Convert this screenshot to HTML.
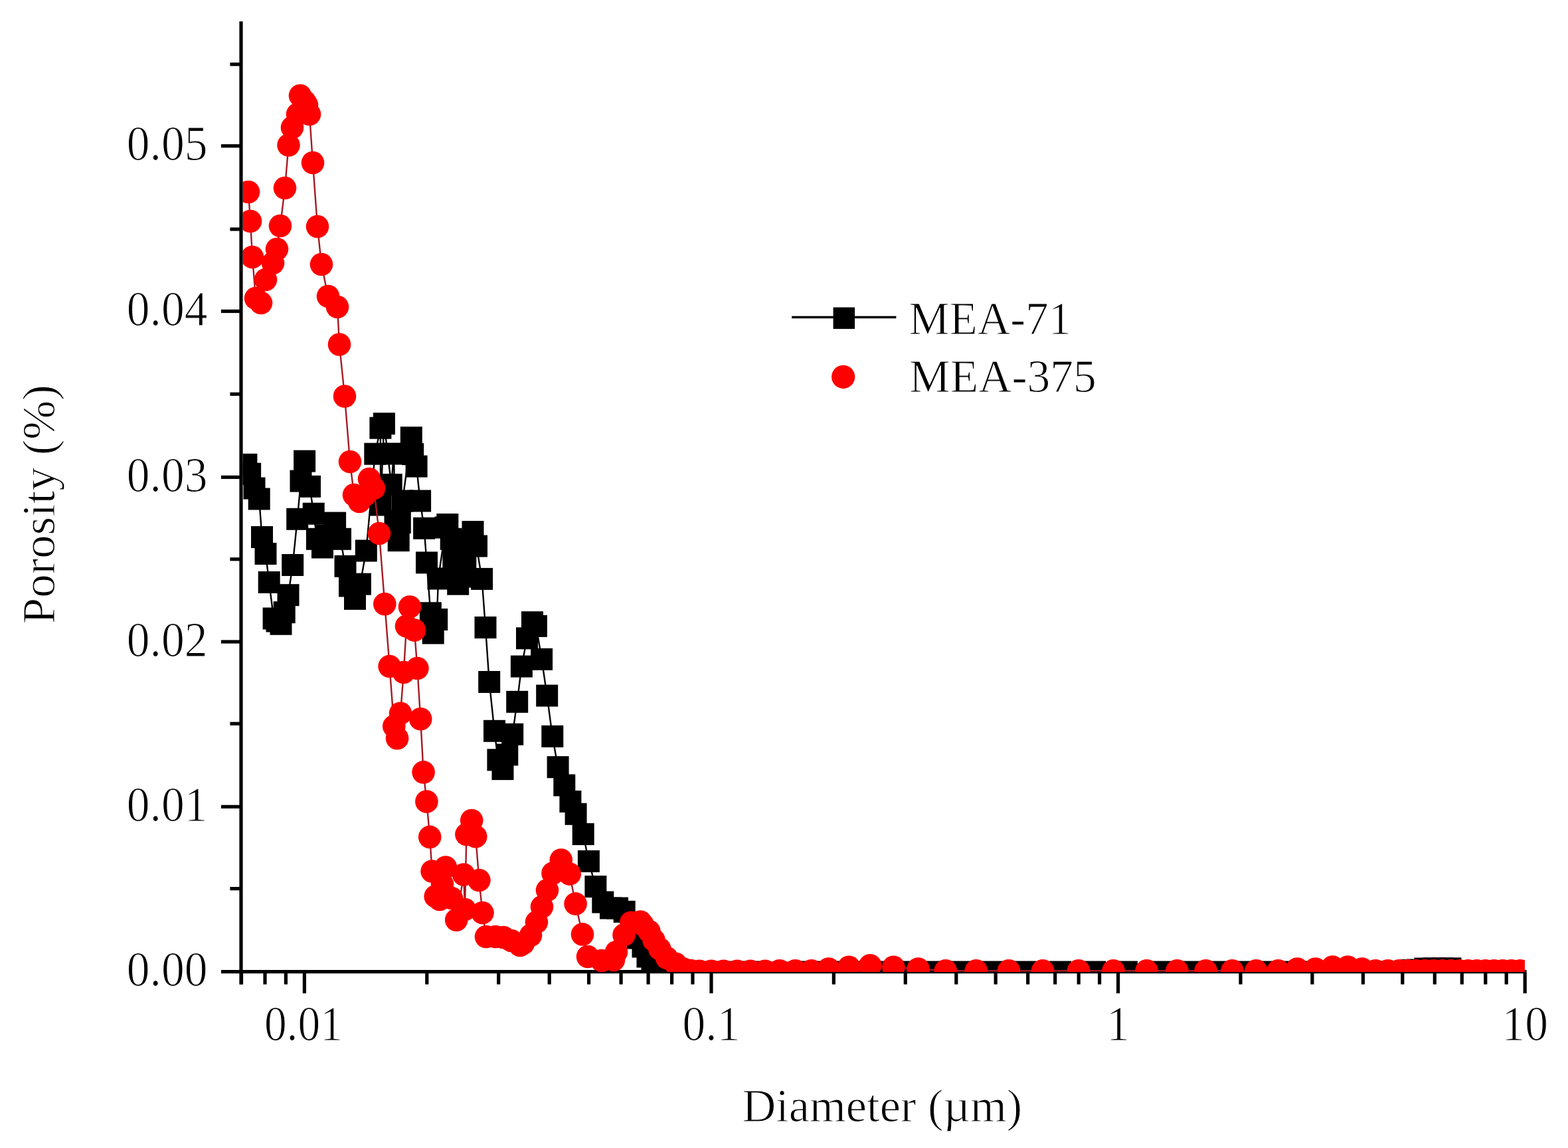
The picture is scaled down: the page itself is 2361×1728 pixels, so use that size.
<!DOCTYPE html><html><head><meta charset="utf-8"><style>html,body{margin:0;padding:0;background:#fff;}svg{display:block}</style></head><body>
<svg width="2361" height="1728" viewBox="0 0 2361 1728">
<rect width="2361" height="1728" fill="#fff"/>
<style>text{stroke:#fff;stroke-width:1.1px;}</style>
<defs><clipPath id="pc"><rect x="365.6" y="0" width="1930.4" height="1463.0"/></clipPath></defs>
<line x1="333.0" y1="1462.6" x2="2298.6" y2="1462.6" stroke="#000" stroke-width="5.2"/>
<line x1="363.5" y1="1464.2" x2="363.5" y2="1481.7" stroke="#000" stroke-width="5.2"/>
<line x1="399.0" y1="1464.2" x2="399.0" y2="1481.7" stroke="#000" stroke-width="5.2"/>
<line x1="430.4" y1="1464.2" x2="430.4" y2="1481.7" stroke="#000" stroke-width="5.2"/>
<line x1="458.4" y1="1464.2" x2="458.4" y2="1495.2" stroke="#000" stroke-width="5.2"/>
<line x1="642.8" y1="1464.2" x2="642.8" y2="1481.7" stroke="#000" stroke-width="5.2"/>
<line x1="750.7" y1="1464.2" x2="750.7" y2="1481.7" stroke="#000" stroke-width="5.2"/>
<line x1="827.2" y1="1464.2" x2="827.2" y2="1481.7" stroke="#000" stroke-width="5.2"/>
<line x1="886.6" y1="1464.2" x2="886.6" y2="1481.7" stroke="#000" stroke-width="5.2"/>
<line x1="935.1" y1="1464.2" x2="935.1" y2="1481.7" stroke="#000" stroke-width="5.2"/>
<line x1="976.1" y1="1464.2" x2="976.1" y2="1481.7" stroke="#000" stroke-width="5.2"/>
<line x1="1011.6" y1="1464.2" x2="1011.6" y2="1481.7" stroke="#000" stroke-width="5.2"/>
<line x1="1043.0" y1="1464.2" x2="1043.0" y2="1481.7" stroke="#000" stroke-width="5.2"/>
<line x1="1071.0" y1="1464.2" x2="1071.0" y2="1495.2" stroke="#000" stroke-width="5.2"/>
<line x1="1255.4" y1="1464.2" x2="1255.4" y2="1481.7" stroke="#000" stroke-width="5.2"/>
<line x1="1363.3" y1="1464.2" x2="1363.3" y2="1481.7" stroke="#000" stroke-width="5.2"/>
<line x1="1439.8" y1="1464.2" x2="1439.8" y2="1481.7" stroke="#000" stroke-width="5.2"/>
<line x1="1499.2" y1="1464.2" x2="1499.2" y2="1481.7" stroke="#000" stroke-width="5.2"/>
<line x1="1547.7" y1="1464.2" x2="1547.7" y2="1481.7" stroke="#000" stroke-width="5.2"/>
<line x1="1588.7" y1="1464.2" x2="1588.7" y2="1481.7" stroke="#000" stroke-width="5.2"/>
<line x1="1624.2" y1="1464.2" x2="1624.2" y2="1481.7" stroke="#000" stroke-width="5.2"/>
<line x1="1655.6" y1="1464.2" x2="1655.6" y2="1481.7" stroke="#000" stroke-width="5.2"/>
<line x1="1683.6" y1="1464.2" x2="1683.6" y2="1495.2" stroke="#000" stroke-width="5.2"/>
<line x1="1868.0" y1="1464.2" x2="1868.0" y2="1481.7" stroke="#000" stroke-width="5.2"/>
<line x1="1975.9" y1="1464.2" x2="1975.9" y2="1481.7" stroke="#000" stroke-width="5.2"/>
<line x1="2052.4" y1="1464.2" x2="2052.4" y2="1481.7" stroke="#000" stroke-width="5.2"/>
<line x1="2111.8" y1="1464.2" x2="2111.8" y2="1481.7" stroke="#000" stroke-width="5.2"/>
<line x1="2160.3" y1="1464.2" x2="2160.3" y2="1481.7" stroke="#000" stroke-width="5.2"/>
<line x1="2201.3" y1="1464.2" x2="2201.3" y2="1481.7" stroke="#000" stroke-width="5.2"/>
<line x1="2236.8" y1="1464.2" x2="2236.8" y2="1481.7" stroke="#000" stroke-width="5.2"/>
<line x1="2268.2" y1="1464.2" x2="2268.2" y2="1481.7" stroke="#000" stroke-width="5.2"/>
<line x1="2296.2" y1="1464.2" x2="2296.2" y2="1495.2" stroke="#000" stroke-width="5.2"/>
<line x1="346.4" y1="1337.6" x2="361.4" y2="1337.6" stroke="#000" stroke-width="5.2"/>
<line x1="332.9" y1="1214.3" x2="361.4" y2="1214.3" stroke="#000" stroke-width="5.2"/>
<line x1="346.4" y1="1089.3" x2="361.4" y2="1089.3" stroke="#000" stroke-width="5.2"/>
<line x1="332.9" y1="966.0" x2="361.4" y2="966.0" stroke="#000" stroke-width="5.2"/>
<line x1="346.4" y1="841.7" x2="361.4" y2="841.7" stroke="#000" stroke-width="5.2"/>
<line x1="332.9" y1="718.3" x2="361.4" y2="718.3" stroke="#000" stroke-width="5.2"/>
<line x1="346.4" y1="593.2" x2="361.4" y2="593.2" stroke="#000" stroke-width="5.2"/>
<line x1="332.9" y1="468.5" x2="361.4" y2="468.5" stroke="#000" stroke-width="5.2"/>
<line x1="346.4" y1="345.0" x2="361.4" y2="345.0" stroke="#000" stroke-width="5.2"/>
<line x1="332.9" y1="219.7" x2="361.4" y2="219.7" stroke="#000" stroke-width="5.2"/>
<line x1="346.4" y1="96.8" x2="361.4" y2="96.8" stroke="#000" stroke-width="5.2"/>
<g clip-path="url(#pc)">
<polyline points="370.9,699.3 376.6,713.2 383.0,735.0 390.2,751.0 394.5,808.5 400.0,833.5 405.2,876.5 412.1,931.0 417.0,935.0 423.0,939.3 428.2,921.7 434.0,895.7 440.7,850.5 447.7,781.3 453.0,724.1 458.6,694.1 466.5,732.3 472.2,773.2 477.4,811.3 485.5,824.0 491.5,806.0 504.6,787.1 512.5,811.3 520.0,852.3 526.5,882.0 534.5,901.4 542.4,879.2 551.3,829.0 564.8,683.2 572.9,644.2 573.0,760.0 578.4,637.7 589.2,729.6 593.0,683.0 595.0,784.0 600.2,813.6 602.3,786.5 606.0,754.0 619.3,658.7 621.7,683.6 627.1,702.0 632.6,754.0 638.6,795.2 642.5,846.9 648.3,922.8 652.2,953.0 657.7,932.5 660.0,871.0 671.0,794.0 673.8,789.5 679.2,811.3 682.8,840.2 688.0,862.0 689.7,879.2 700.0,868.0 700.8,841.0 705.0,815.0 712.0,800.5 717.5,822.0 725.6,871.4 731.0,944.5 736.7,1026.5 744.5,1100.3 749.9,1143.8 757.0,1157.6 763.8,1136.0 771.7,1105.3 778.7,1056.4 785.4,1003.1 793.5,960.8 801.5,936.7 807.4,942.4 815.6,992.3 823.7,1047.1 831.8,1108.4 840.1,1154.7 849.8,1182.0 858.9,1206.5 867.1,1225.3 878.2,1255.6 886.4,1296.4 896.9,1334.5 907.8,1358.0 919.5,1367.0 929.5,1367.0 940.2,1372.3 950.0,1395.0 960.0,1412.0 968.0,1425.0 975.0,1440.0 982.0,1452.0 990.0,1460.0 1062.0,1463.0 1080.0,1463.0 1100.0,1463.0 1120.0,1463.0 1141.0,1463.0 1163.0,1464.0 1185.0,1464.0 1210.0,1463.0 1235.0,1463.0 1263.0,1463.0 1294.0,1463.0 1328.0,1463.0 1364.0,1463.0 1403.0,1463.0 1447.9,1463.0 1494.4,1463.0 1543.6,1463.0 1596.7,1463.0 1648.6,1463.0 1696.4,1463.0 1747.0,1463.0 1792.0,1463.0 1835.0,1463.0 1873.0,1463.0 1907.0,1463.0 1938.0,1463.0 1967.0,1463.0 1994.0,1463.0 2018.0,1463.0 2040.0,1463.0 2061.0,1463.0 2080.0,1463.0 2098.0,1463.0 2110.0,1463.0 2122.0,1460.5 2146.0,1458.0 2159.0,1457.8 2172.0,1457.8 2184.0,1457.8 2134.0,1460.0 2210.0,1463.0 2225.0,1463.0 2240.0,1463.0 2255.0,1463.0 2270.0,1463.0 2285.0,1463.0 2300.0,1463.0" fill="none" stroke="#000" stroke-width="2.4"/>
<rect x="354.4" y="682.8" width="33.0" height="33.0" fill="#000"/>
<rect x="360.1" y="696.7" width="33.0" height="33.0" fill="#000"/>
<rect x="366.5" y="718.5" width="33.0" height="33.0" fill="#000"/>
<rect x="373.7" y="734.5" width="33.0" height="33.0" fill="#000"/>
<rect x="378.0" y="792.0" width="33.0" height="33.0" fill="#000"/>
<rect x="383.5" y="817.0" width="33.0" height="33.0" fill="#000"/>
<rect x="388.7" y="860.0" width="33.0" height="33.0" fill="#000"/>
<rect x="395.6" y="914.5" width="33.0" height="33.0" fill="#000"/>
<rect x="400.5" y="918.5" width="33.0" height="33.0" fill="#000"/>
<rect x="406.5" y="922.8" width="33.0" height="33.0" fill="#000"/>
<rect x="411.7" y="905.2" width="33.0" height="33.0" fill="#000"/>
<rect x="417.5" y="879.2" width="33.0" height="33.0" fill="#000"/>
<rect x="424.2" y="834.0" width="33.0" height="33.0" fill="#000"/>
<rect x="431.2" y="764.8" width="33.0" height="33.0" fill="#000"/>
<rect x="436.5" y="707.6" width="33.0" height="33.0" fill="#000"/>
<rect x="442.1" y="677.6" width="33.0" height="33.0" fill="#000"/>
<rect x="450.0" y="715.8" width="33.0" height="33.0" fill="#000"/>
<rect x="455.7" y="756.7" width="33.0" height="33.0" fill="#000"/>
<rect x="460.9" y="794.8" width="33.0" height="33.0" fill="#000"/>
<rect x="469.0" y="807.5" width="33.0" height="33.0" fill="#000"/>
<rect x="475.0" y="789.5" width="33.0" height="33.0" fill="#000"/>
<rect x="488.1" y="770.6" width="33.0" height="33.0" fill="#000"/>
<rect x="496.0" y="794.8" width="33.0" height="33.0" fill="#000"/>
<rect x="503.5" y="835.8" width="33.0" height="33.0" fill="#000"/>
<rect x="510.0" y="865.5" width="33.0" height="33.0" fill="#000"/>
<rect x="518.0" y="884.9" width="33.0" height="33.0" fill="#000"/>
<rect x="525.9" y="862.7" width="33.0" height="33.0" fill="#000"/>
<rect x="534.8" y="812.5" width="33.0" height="33.0" fill="#000"/>
<rect x="548.3" y="666.7" width="33.0" height="33.0" fill="#000"/>
<rect x="556.4" y="627.7" width="33.0" height="33.0" fill="#000"/>
<rect x="556.5" y="743.5" width="33.0" height="33.0" fill="#000"/>
<rect x="561.9" y="621.2" width="33.0" height="33.0" fill="#000"/>
<rect x="572.7" y="713.1" width="33.0" height="33.0" fill="#000"/>
<rect x="576.5" y="666.5" width="33.0" height="33.0" fill="#000"/>
<rect x="578.5" y="767.5" width="33.0" height="33.0" fill="#000"/>
<rect x="583.7" y="797.1" width="33.0" height="33.0" fill="#000"/>
<rect x="585.8" y="770.0" width="33.0" height="33.0" fill="#000"/>
<rect x="589.5" y="737.5" width="33.0" height="33.0" fill="#000"/>
<rect x="602.8" y="642.2" width="33.0" height="33.0" fill="#000"/>
<rect x="605.2" y="667.1" width="33.0" height="33.0" fill="#000"/>
<rect x="610.6" y="685.5" width="33.0" height="33.0" fill="#000"/>
<rect x="616.1" y="737.5" width="33.0" height="33.0" fill="#000"/>
<rect x="622.1" y="778.7" width="33.0" height="33.0" fill="#000"/>
<rect x="626.0" y="830.4" width="33.0" height="33.0" fill="#000"/>
<rect x="631.8" y="906.3" width="33.0" height="33.0" fill="#000"/>
<rect x="635.7" y="936.5" width="33.0" height="33.0" fill="#000"/>
<rect x="641.2" y="916.0" width="33.0" height="33.0" fill="#000"/>
<rect x="643.5" y="854.5" width="33.0" height="33.0" fill="#000"/>
<rect x="654.5" y="777.5" width="33.0" height="33.0" fill="#000"/>
<rect x="657.3" y="773.0" width="33.0" height="33.0" fill="#000"/>
<rect x="662.7" y="794.8" width="33.0" height="33.0" fill="#000"/>
<rect x="666.3" y="823.7" width="33.0" height="33.0" fill="#000"/>
<rect x="671.5" y="845.5" width="33.0" height="33.0" fill="#000"/>
<rect x="673.2" y="862.7" width="33.0" height="33.0" fill="#000"/>
<rect x="683.5" y="851.5" width="33.0" height="33.0" fill="#000"/>
<rect x="684.3" y="824.5" width="33.0" height="33.0" fill="#000"/>
<rect x="688.5" y="798.5" width="33.0" height="33.0" fill="#000"/>
<rect x="695.5" y="784.0" width="33.0" height="33.0" fill="#000"/>
<rect x="701.0" y="805.5" width="33.0" height="33.0" fill="#000"/>
<rect x="709.1" y="854.9" width="33.0" height="33.0" fill="#000"/>
<rect x="714.5" y="928.0" width="33.0" height="33.0" fill="#000"/>
<rect x="720.2" y="1010.0" width="33.0" height="33.0" fill="#000"/>
<rect x="728.0" y="1083.8" width="33.0" height="33.0" fill="#000"/>
<rect x="733.4" y="1127.3" width="33.0" height="33.0" fill="#000"/>
<rect x="740.5" y="1141.1" width="33.0" height="33.0" fill="#000"/>
<rect x="747.3" y="1119.5" width="33.0" height="33.0" fill="#000"/>
<rect x="755.2" y="1088.8" width="33.0" height="33.0" fill="#000"/>
<rect x="762.2" y="1039.9" width="33.0" height="33.0" fill="#000"/>
<rect x="768.9" y="986.6" width="33.0" height="33.0" fill="#000"/>
<rect x="777.0" y="944.3" width="33.0" height="33.0" fill="#000"/>
<rect x="785.0" y="920.2" width="33.0" height="33.0" fill="#000"/>
<rect x="790.9" y="925.9" width="33.0" height="33.0" fill="#000"/>
<rect x="799.1" y="975.8" width="33.0" height="33.0" fill="#000"/>
<rect x="807.2" y="1030.6" width="33.0" height="33.0" fill="#000"/>
<rect x="815.3" y="1091.9" width="33.0" height="33.0" fill="#000"/>
<rect x="823.6" y="1138.2" width="33.0" height="33.0" fill="#000"/>
<rect x="833.3" y="1165.5" width="33.0" height="33.0" fill="#000"/>
<rect x="842.4" y="1190.0" width="33.0" height="33.0" fill="#000"/>
<rect x="850.6" y="1208.8" width="33.0" height="33.0" fill="#000"/>
<rect x="861.7" y="1239.1" width="33.0" height="33.0" fill="#000"/>
<rect x="869.9" y="1279.9" width="33.0" height="33.0" fill="#000"/>
<rect x="880.4" y="1318.0" width="33.0" height="33.0" fill="#000"/>
<rect x="891.3" y="1341.5" width="33.0" height="33.0" fill="#000"/>
<rect x="903.0" y="1350.5" width="33.0" height="33.0" fill="#000"/>
<rect x="913.0" y="1350.5" width="33.0" height="33.0" fill="#000"/>
<rect x="923.7" y="1355.8" width="33.0" height="33.0" fill="#000"/>
<rect x="933.5" y="1378.5" width="33.0" height="33.0" fill="#000"/>
<rect x="943.5" y="1395.5" width="33.0" height="33.0" fill="#000"/>
<rect x="951.5" y="1408.5" width="33.0" height="33.0" fill="#000"/>
<rect x="958.5" y="1423.5" width="33.0" height="33.0" fill="#000"/>
<rect x="965.5" y="1435.5" width="33.0" height="33.0" fill="#000"/>
<rect x="973.5" y="1443.5" width="33.0" height="33.0" fill="#000"/>
<rect x="1045.5" y="1446.5" width="33.0" height="33.0" fill="#000"/>
<rect x="1063.5" y="1446.5" width="33.0" height="33.0" fill="#000"/>
<rect x="1083.5" y="1446.5" width="33.0" height="33.0" fill="#000"/>
<rect x="1103.5" y="1446.5" width="33.0" height="33.0" fill="#000"/>
<rect x="1124.5" y="1446.5" width="33.0" height="33.0" fill="#000"/>
<rect x="1146.5" y="1447.5" width="33.0" height="33.0" fill="#000"/>
<rect x="1168.5" y="1447.5" width="33.0" height="33.0" fill="#000"/>
<rect x="1193.5" y="1446.5" width="33.0" height="33.0" fill="#000"/>
<rect x="1218.5" y="1446.5" width="33.0" height="33.0" fill="#000"/>
<rect x="1246.5" y="1446.5" width="33.0" height="33.0" fill="#000"/>
<rect x="1277.5" y="1446.5" width="33.0" height="33.0" fill="#000"/>
<rect x="1311.5" y="1446.5" width="33.0" height="33.0" fill="#000"/>
<rect x="1347.5" y="1446.5" width="33.0" height="33.0" fill="#000"/>
<rect x="1386.5" y="1446.5" width="33.0" height="33.0" fill="#000"/>
<rect x="1431.4" y="1446.5" width="33.0" height="33.0" fill="#000"/>
<rect x="1477.9" y="1446.5" width="33.0" height="33.0" fill="#000"/>
<rect x="1527.1" y="1446.5" width="33.0" height="33.0" fill="#000"/>
<rect x="1580.2" y="1446.5" width="33.0" height="33.0" fill="#000"/>
<rect x="1632.1" y="1446.5" width="33.0" height="33.0" fill="#000"/>
<rect x="1679.9" y="1446.5" width="33.0" height="33.0" fill="#000"/>
<rect x="1730.5" y="1446.5" width="33.0" height="33.0" fill="#000"/>
<rect x="1775.5" y="1446.5" width="33.0" height="33.0" fill="#000"/>
<rect x="1818.5" y="1446.5" width="33.0" height="33.0" fill="#000"/>
<rect x="1856.5" y="1446.5" width="33.0" height="33.0" fill="#000"/>
<rect x="1890.5" y="1446.5" width="33.0" height="33.0" fill="#000"/>
<rect x="1921.5" y="1446.5" width="33.0" height="33.0" fill="#000"/>
<rect x="1950.5" y="1446.5" width="33.0" height="33.0" fill="#000"/>
<rect x="1977.5" y="1446.5" width="33.0" height="33.0" fill="#000"/>
<rect x="2001.5" y="1446.5" width="33.0" height="33.0" fill="#000"/>
<rect x="2023.5" y="1446.5" width="33.0" height="33.0" fill="#000"/>
<rect x="2044.5" y="1446.5" width="33.0" height="33.0" fill="#000"/>
<rect x="2063.5" y="1446.5" width="33.0" height="33.0" fill="#000"/>
<rect x="2081.5" y="1446.5" width="33.0" height="33.0" fill="#000"/>
<rect x="2093.5" y="1446.5" width="33.0" height="33.0" fill="#000"/>
<rect x="2105.5" y="1444.0" width="33.0" height="33.0" fill="#000"/>
<rect x="2129.5" y="1441.5" width="33.0" height="33.0" fill="#000"/>
<rect x="2142.5" y="1441.3" width="33.0" height="33.0" fill="#000"/>
<rect x="2155.5" y="1441.3" width="33.0" height="33.0" fill="#000"/>
<rect x="2167.5" y="1441.3" width="33.0" height="33.0" fill="#000"/>
<rect x="2117.5" y="1443.5" width="33.0" height="33.0" fill="#000"/>
<rect x="2193.5" y="1446.5" width="33.0" height="33.0" fill="#000"/>
<rect x="2208.5" y="1446.5" width="33.0" height="33.0" fill="#000"/>
<rect x="2223.5" y="1446.5" width="33.0" height="33.0" fill="#000"/>
<rect x="2238.5" y="1446.5" width="33.0" height="33.0" fill="#000"/>
<rect x="2253.5" y="1446.5" width="33.0" height="33.0" fill="#000"/>
<rect x="2268.5" y="1446.5" width="33.0" height="33.0" fill="#000"/>
<rect x="2283.5" y="1446.5" width="33.0" height="33.0" fill="#000"/>
<polyline points="374.0,289.0 377.0,333.0 380.0,387.0 385.0,449.0 393.0,456.0 400.0,421.0 411.0,396.0 417.0,375.0 422.0,340.0 429.0,283.0 434.5,218.5 440.0,192.0 448.0,172.0 452.0,144.0 459.0,153.0 462.0,158.0 466.0,172.0 471.0,245.0 478.0,341.0 484.0,398.0 494.0,446.0 508.0,462.0 511.0,518.5 519.0,596.5 527.0,695.0 533.0,745.0 541.0,755.0 550.0,745.0 556.0,721.0 563.0,735.0 571.0,803.0 579.3,909.2 586.6,1003.0 593.3,1093.2 598.1,1111.3 603.0,1073.8 607.8,1012.0 612.0,942.5 617.0,913.5 624.0,948.6 628.4,1006.0 633.2,1082.3 637.6,1162.4 642.4,1206.6 647.2,1259.9 650.6,1311.5 655.7,1349.3 662.0,1354.0 666.0,1331.0 671.0,1305.6 680.0,1352.0 687.2,1384.7 698.2,1316.6 700.0,1369.0 702.4,1256.0 710.2,1235.0 716.2,1259.3 721.4,1325.0 726.5,1374.0 732.0,1410.0 746.0,1410.0 758.0,1411.0 770.0,1416.0 783.0,1423.0 788.0,1420.0 799.0,1408.0 808.0,1388.0 816.0,1365.0 824.0,1340.0 832.5,1314.4 844.8,1294.6 857.7,1315.6 866.6,1360.4 877.0,1406.4 885.0,1440.0 906.0,1446.0 924.0,1445.0 928.0,1433.0 939.5,1407.3 950.2,1388.7 964.2,1387.6 967.7,1391.8 977.5,1402.0 984.6,1415.3 993.4,1428.6 1004.0,1442.0 1017.3,1450.8 1028.0,1458.0 1040.0,1461.0 1053.0,1461.8 1071.0,1461.8 1089.5,1461.8 1110.0,1461.8 1130.0,1461.8 1152.0,1461.8 1173.8,1461.2 1197.5,1461.2 1221.8,1461.2 1247.7,1458.5 1278.3,1455.8 1310.2,1453.2 1345.4,1455.8 1382.6,1458.5 1423.8,1461.2 1469.8,1461.2 1519.0,1461.2 1570.1,1461.2 1624.0,1461.2 1676.5,1461.2 1726.6,1461.2 1772.4,1461.2 1815.6,1461.2 1855.5,1461.2 1891.4,1461.2 1924.6,1461.2 1953.3,1458.6 1980.8,1458.6 2006.5,1455.5 2029.5,1455.5 2050.8,1458.6 2071.1,1461.2 2089.8,1461.2 2106.6,1461.2 2119.6,1461.2 2132.6,1461.2 2145.6,1461.2 2158.6,1461.2 2171.6,1461.2 2184.6,1461.2 2197.6,1461.2 2210.6,1461.2 2223.6,1461.2 2236.6,1461.2 2249.6,1461.2 2262.6,1461.2 2275.6,1461.2 2288.6,1461.2 2301.6,1461.2" fill="none" stroke="#a51a24" stroke-width="2.4"/>
<circle cx="374.0" cy="289.0" r="17.3" fill="#ff0000"/>
<circle cx="377.0" cy="333.0" r="17.3" fill="#ff0000"/>
<circle cx="380.0" cy="387.0" r="17.3" fill="#ff0000"/>
<circle cx="385.0" cy="449.0" r="17.3" fill="#ff0000"/>
<circle cx="393.0" cy="456.0" r="17.3" fill="#ff0000"/>
<circle cx="400.0" cy="421.0" r="17.3" fill="#ff0000"/>
<circle cx="411.0" cy="396.0" r="17.3" fill="#ff0000"/>
<circle cx="417.0" cy="375.0" r="17.3" fill="#ff0000"/>
<circle cx="422.0" cy="340.0" r="17.3" fill="#ff0000"/>
<circle cx="429.0" cy="283.0" r="17.3" fill="#ff0000"/>
<circle cx="434.5" cy="218.5" r="17.3" fill="#ff0000"/>
<circle cx="440.0" cy="192.0" r="17.3" fill="#ff0000"/>
<circle cx="448.0" cy="172.0" r="17.3" fill="#ff0000"/>
<circle cx="452.0" cy="144.0" r="17.3" fill="#ff0000"/>
<circle cx="459.0" cy="153.0" r="17.3" fill="#ff0000"/>
<circle cx="462.0" cy="158.0" r="17.3" fill="#ff0000"/>
<circle cx="466.0" cy="172.0" r="17.3" fill="#ff0000"/>
<circle cx="471.0" cy="245.0" r="17.3" fill="#ff0000"/>
<circle cx="478.0" cy="341.0" r="17.3" fill="#ff0000"/>
<circle cx="484.0" cy="398.0" r="17.3" fill="#ff0000"/>
<circle cx="494.0" cy="446.0" r="17.3" fill="#ff0000"/>
<circle cx="508.0" cy="462.0" r="17.3" fill="#ff0000"/>
<circle cx="511.0" cy="518.5" r="17.3" fill="#ff0000"/>
<circle cx="519.0" cy="596.5" r="17.3" fill="#ff0000"/>
<circle cx="527.0" cy="695.0" r="17.3" fill="#ff0000"/>
<circle cx="533.0" cy="745.0" r="17.3" fill="#ff0000"/>
<circle cx="541.0" cy="755.0" r="17.3" fill="#ff0000"/>
<circle cx="550.0" cy="745.0" r="17.3" fill="#ff0000"/>
<circle cx="556.0" cy="721.0" r="17.3" fill="#ff0000"/>
<circle cx="563.0" cy="735.0" r="17.3" fill="#ff0000"/>
<circle cx="571.0" cy="803.0" r="17.3" fill="#ff0000"/>
<circle cx="579.3" cy="909.2" r="17.3" fill="#ff0000"/>
<circle cx="586.6" cy="1003.0" r="17.3" fill="#ff0000"/>
<circle cx="593.3" cy="1093.2" r="17.3" fill="#ff0000"/>
<circle cx="598.1" cy="1111.3" r="17.3" fill="#ff0000"/>
<circle cx="603.0" cy="1073.8" r="17.3" fill="#ff0000"/>
<circle cx="607.8" cy="1012.0" r="17.3" fill="#ff0000"/>
<circle cx="612.0" cy="942.5" r="17.3" fill="#ff0000"/>
<circle cx="617.0" cy="913.5" r="17.3" fill="#ff0000"/>
<circle cx="624.0" cy="948.6" r="17.3" fill="#ff0000"/>
<circle cx="628.4" cy="1006.0" r="17.3" fill="#ff0000"/>
<circle cx="633.2" cy="1082.3" r="17.3" fill="#ff0000"/>
<circle cx="637.6" cy="1162.4" r="17.3" fill="#ff0000"/>
<circle cx="642.4" cy="1206.6" r="17.3" fill="#ff0000"/>
<circle cx="647.2" cy="1259.9" r="17.3" fill="#ff0000"/>
<circle cx="650.6" cy="1311.5" r="17.3" fill="#ff0000"/>
<circle cx="655.7" cy="1349.3" r="17.3" fill="#ff0000"/>
<circle cx="662.0" cy="1354.0" r="17.3" fill="#ff0000"/>
<circle cx="666.0" cy="1331.0" r="17.3" fill="#ff0000"/>
<circle cx="671.0" cy="1305.6" r="17.3" fill="#ff0000"/>
<circle cx="680.0" cy="1352.0" r="17.3" fill="#ff0000"/>
<circle cx="687.2" cy="1384.7" r="17.3" fill="#ff0000"/>
<circle cx="698.2" cy="1316.6" r="17.3" fill="#ff0000"/>
<circle cx="700.0" cy="1369.0" r="17.3" fill="#ff0000"/>
<circle cx="702.4" cy="1256.0" r="17.3" fill="#ff0000"/>
<circle cx="710.2" cy="1235.0" r="17.3" fill="#ff0000"/>
<circle cx="716.2" cy="1259.3" r="17.3" fill="#ff0000"/>
<circle cx="721.4" cy="1325.0" r="17.3" fill="#ff0000"/>
<circle cx="726.5" cy="1374.0" r="17.3" fill="#ff0000"/>
<circle cx="732.0" cy="1410.0" r="17.3" fill="#ff0000"/>
<circle cx="746.0" cy="1410.0" r="17.3" fill="#ff0000"/>
<circle cx="758.0" cy="1411.0" r="17.3" fill="#ff0000"/>
<circle cx="770.0" cy="1416.0" r="17.3" fill="#ff0000"/>
<circle cx="783.0" cy="1423.0" r="17.3" fill="#ff0000"/>
<circle cx="788.0" cy="1420.0" r="17.3" fill="#ff0000"/>
<circle cx="799.0" cy="1408.0" r="17.3" fill="#ff0000"/>
<circle cx="808.0" cy="1388.0" r="17.3" fill="#ff0000"/>
<circle cx="816.0" cy="1365.0" r="17.3" fill="#ff0000"/>
<circle cx="824.0" cy="1340.0" r="17.3" fill="#ff0000"/>
<circle cx="832.5" cy="1314.4" r="17.3" fill="#ff0000"/>
<circle cx="844.8" cy="1294.6" r="17.3" fill="#ff0000"/>
<circle cx="857.7" cy="1315.6" r="17.3" fill="#ff0000"/>
<circle cx="866.6" cy="1360.4" r="17.3" fill="#ff0000"/>
<circle cx="877.0" cy="1406.4" r="17.3" fill="#ff0000"/>
<circle cx="885.0" cy="1440.0" r="17.3" fill="#ff0000"/>
<circle cx="906.0" cy="1446.0" r="17.3" fill="#ff0000"/>
<circle cx="924.0" cy="1445.0" r="17.3" fill="#ff0000"/>
<circle cx="928.0" cy="1433.0" r="17.3" fill="#ff0000"/>
<circle cx="939.5" cy="1407.3" r="17.3" fill="#ff0000"/>
<circle cx="950.2" cy="1388.7" r="17.3" fill="#ff0000"/>
<circle cx="964.2" cy="1387.6" r="17.3" fill="#ff0000"/>
<circle cx="967.7" cy="1391.8" r="17.3" fill="#ff0000"/>
<circle cx="977.5" cy="1402.0" r="17.3" fill="#ff0000"/>
<circle cx="984.6" cy="1415.3" r="17.3" fill="#ff0000"/>
<circle cx="993.4" cy="1428.6" r="17.3" fill="#ff0000"/>
<circle cx="1004.0" cy="1442.0" r="17.3" fill="#ff0000"/>
<circle cx="1017.3" cy="1450.8" r="17.3" fill="#ff0000"/>
<circle cx="1028.0" cy="1458.0" r="17.3" fill="#ff0000"/>
<circle cx="1040.0" cy="1461.0" r="17.3" fill="#ff0000"/>
<circle cx="1053.0" cy="1461.8" r="17.3" fill="#ff0000"/>
<circle cx="1071.0" cy="1461.8" r="17.3" fill="#ff0000"/>
<circle cx="1089.5" cy="1461.8" r="17.3" fill="#ff0000"/>
<circle cx="1110.0" cy="1461.8" r="17.3" fill="#ff0000"/>
<circle cx="1130.0" cy="1461.8" r="17.3" fill="#ff0000"/>
<circle cx="1152.0" cy="1461.8" r="17.3" fill="#ff0000"/>
<circle cx="1173.8" cy="1461.2" r="17.3" fill="#ff0000"/>
<circle cx="1197.5" cy="1461.2" r="17.3" fill="#ff0000"/>
<circle cx="1221.8" cy="1461.2" r="17.3" fill="#ff0000"/>
<circle cx="1247.7" cy="1458.5" r="17.3" fill="#ff0000"/>
<circle cx="1278.3" cy="1455.8" r="17.3" fill="#ff0000"/>
<circle cx="1310.2" cy="1453.2" r="17.3" fill="#ff0000"/>
<circle cx="1345.4" cy="1455.8" r="17.3" fill="#ff0000"/>
<circle cx="1382.6" cy="1458.5" r="17.3" fill="#ff0000"/>
<circle cx="1423.8" cy="1461.2" r="17.3" fill="#ff0000"/>
<circle cx="1469.8" cy="1461.2" r="17.3" fill="#ff0000"/>
<circle cx="1519.0" cy="1461.2" r="17.3" fill="#ff0000"/>
<circle cx="1570.1" cy="1461.2" r="17.3" fill="#ff0000"/>
<circle cx="1624.0" cy="1461.2" r="17.3" fill="#ff0000"/>
<circle cx="1676.5" cy="1461.2" r="17.3" fill="#ff0000"/>
<circle cx="1726.6" cy="1461.2" r="17.3" fill="#ff0000"/>
<circle cx="1772.4" cy="1461.2" r="17.3" fill="#ff0000"/>
<circle cx="1815.6" cy="1461.2" r="17.3" fill="#ff0000"/>
<circle cx="1855.5" cy="1461.2" r="17.3" fill="#ff0000"/>
<circle cx="1891.4" cy="1461.2" r="17.3" fill="#ff0000"/>
<circle cx="1924.6" cy="1461.2" r="17.3" fill="#ff0000"/>
<circle cx="1953.3" cy="1458.6" r="17.3" fill="#ff0000"/>
<circle cx="1980.8" cy="1458.6" r="17.3" fill="#ff0000"/>
<circle cx="2006.5" cy="1455.5" r="17.3" fill="#ff0000"/>
<circle cx="2029.5" cy="1455.5" r="17.3" fill="#ff0000"/>
<circle cx="2050.8" cy="1458.6" r="17.3" fill="#ff0000"/>
<circle cx="2071.1" cy="1461.2" r="17.3" fill="#ff0000"/>
<circle cx="2089.8" cy="1461.2" r="17.3" fill="#ff0000"/>
<circle cx="2106.6" cy="1461.2" r="17.3" fill="#ff0000"/>
<circle cx="2119.6" cy="1461.2" r="17.3" fill="#ff0000"/>
<circle cx="2132.6" cy="1461.2" r="17.3" fill="#ff0000"/>
<circle cx="2145.6" cy="1461.2" r="17.3" fill="#ff0000"/>
<circle cx="2158.6" cy="1461.2" r="17.3" fill="#ff0000"/>
<circle cx="2171.6" cy="1461.2" r="17.3" fill="#ff0000"/>
<circle cx="2184.6" cy="1461.2" r="17.3" fill="#ff0000"/>
<circle cx="2197.6" cy="1461.2" r="17.3" fill="#ff0000"/>
<circle cx="2210.6" cy="1461.2" r="17.3" fill="#ff0000"/>
<circle cx="2223.6" cy="1461.2" r="17.3" fill="#ff0000"/>
<circle cx="2236.6" cy="1461.2" r="17.3" fill="#ff0000"/>
<circle cx="2249.6" cy="1461.2" r="17.3" fill="#ff0000"/>
<circle cx="2262.6" cy="1461.2" r="17.3" fill="#ff0000"/>
<circle cx="2275.6" cy="1461.2" r="17.3" fill="#ff0000"/>
<circle cx="2288.6" cy="1461.2" r="17.3" fill="#ff0000"/>
<circle cx="2301.6" cy="1461.2" r="17.3" fill="#ff0000"/>
</g>
<line x1="363.0" y1="32.3" x2="363.0" y2="1481.7" stroke="#000" stroke-width="5.2"/>
<text transform="translate(312.5,1484.1) scale(1,1.06)" text-anchor="end" font-family='"Liberation Serif", serif' font-size="69.5">0.00</text>
<text transform="translate(312.5,1235.8) scale(1,1.06)" text-anchor="end" font-family='"Liberation Serif", serif' font-size="69.5">0.01</text>
<text transform="translate(312.5,987.5) scale(1,1.06)" text-anchor="end" font-family='"Liberation Serif", serif' font-size="69.5">0.02</text>
<text transform="translate(312.5,739.8) scale(1,1.06)" text-anchor="end" font-family='"Liberation Serif", serif' font-size="69.5">0.03</text>
<text transform="translate(312.5,490.0) scale(1,1.06)" text-anchor="end" font-family='"Liberation Serif", serif' font-size="69.5">0.04</text>
<text transform="translate(312.5,241.2) scale(1,1.06)" text-anchor="end" font-family='"Liberation Serif", serif' font-size="69.5">0.05</text>
<text transform="translate(456.9,1565.5) scale(0.97,1.06)" text-anchor="middle" font-family='"Liberation Serif", serif' font-size="69.5">0.01</text>
<text transform="translate(1071.0,1565.5) scale(1.0,1.06)" text-anchor="middle" font-family='"Liberation Serif", serif' font-size="69.5">0.1</text>
<text transform="translate(1683.6,1565.5) scale(1.0,1.06)" text-anchor="middle" font-family='"Liberation Serif", serif' font-size="69.5">1</text>
<text transform="translate(2296.2,1565.5) scale(1.0,1.06)" text-anchor="middle" font-family='"Liberation Serif", serif' font-size="69.5">10</text>
<text transform="translate(1328.3,1688) scale(1.013,1)" text-anchor="middle" font-family='"Liberation Serif", serif' font-size="69.5">Diameter (µm)</text>
<text transform="translate(81.7,759.2) rotate(-90) scale(1.019,1)" x="0" y="0" text-anchor="middle" font-family='"Liberation Serif", serif' font-size="69.5">Porosity (%)</text>
<line x1="1192.2" y1="477.5" x2="1349.4" y2="477.5" stroke="#000" stroke-width="3.6"/>
<rect x="1254.6" y="462.6" width="32.5" height="32.5" fill="#000"/>
<circle cx="1269.7" cy="567.3" r="17.6" fill="#ff0000"/>
<text transform="translate(1368.5,503) scale(0.99,1)" font-family='"Liberation Serif", serif' font-size="69.5">MEA-71</text>
<text x="1369" y="589.5" font-family='"Liberation Serif", serif' font-size="69.5">MEA-375</text>
</svg></body></html>
